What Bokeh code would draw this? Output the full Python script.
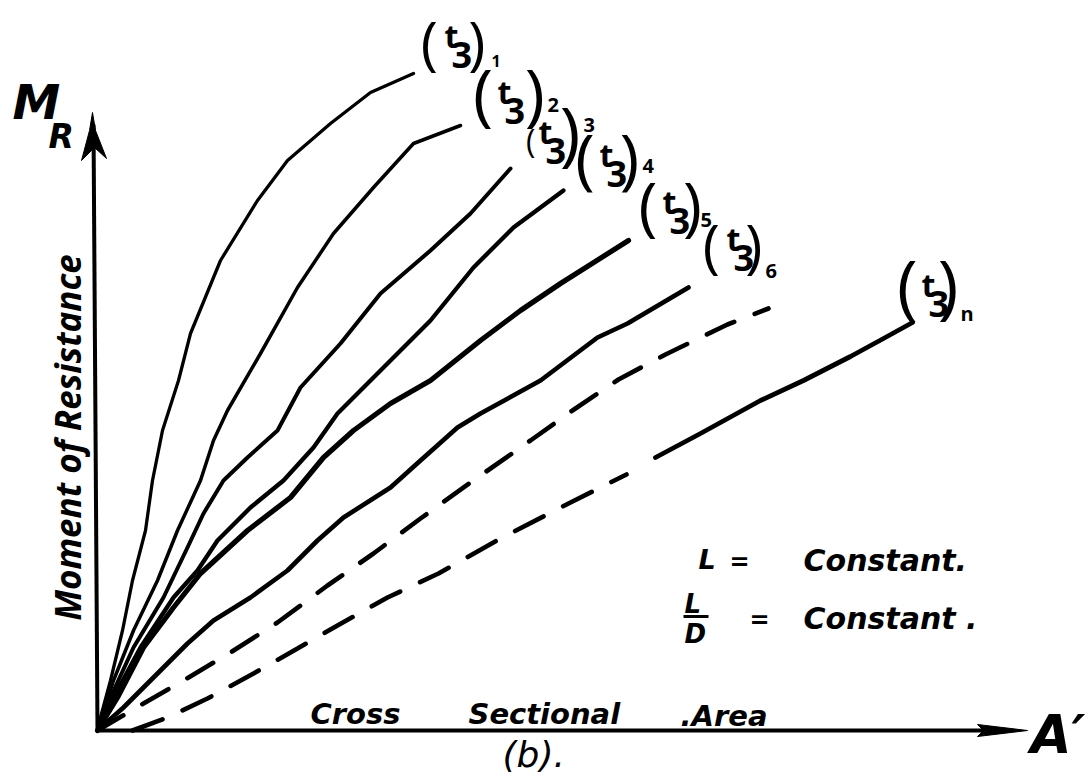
import math
from bokeh.plotting import figure
from bokeh.models import Range1d
from bokeh.core.properties import value
from bokeh.embed import file_html
from bokeh.resources import INLINE

# ---- data: A' (cross sectional area) vs M_R (moment of resistance), arbitrary units ----
c1_x = [0, 3, 13, 25, 35, 48, 55, 65, 81, 93, 123, 160, 190, 233, 273, 316]
c1_y = [0, 13, 50, 100, 150, 200, 250, 300, 350, 397, 470, 530, 570, 607, 638, 657]

c2_x = [0, 16, 36, 60, 80, 103, 116, 130, 163, 200, 236, 276, 316, 363]
c2_y = [0, 50, 100, 150, 200, 250, 290, 320, 377, 443, 497, 543, 587, 605]

c3_x = [0, 13, 36, 66, 90, 106, 126, 150, 180, 203, 243, 283, 333, 373, 413]
c3_y = [0, 33, 83, 133, 183, 217, 250, 273, 300, 343, 387, 437, 480, 517, 562]

c4_x = [0, 16, 43, 76, 100, 120, 153, 186, 216, 240, 273, 333, 376, 416, 466]
c4_y = [0, 33, 83, 133, 160, 190, 223, 250, 283, 317, 350, 410, 463, 503, 540]

c5_x = [0, 20, 46, 76, 103, 150, 193, 226, 256, 293, 333, 383, 423, 463, 531]
c5_y = [0, 33, 83, 123, 157, 200, 233, 273, 300, 327, 350, 390, 420, 447, 490]

c6_x = [0, 26, 60, 90, 116, 153, 190, 220, 246, 293, 323, 360, 383, 443, 500, 530, 591]
c6_y = [0, 23, 57, 87, 110, 133, 160, 190, 213, 243, 270, 303, 317, 350, 393, 407, 443]

d1_x = [0, 46, 86, 133, 180, 230, 276, 323, 373, 433, 475, 521, 568, 630, 671]
d1_y = [0, 27, 50, 78, 108, 145, 177, 212, 248, 290, 320, 351, 376, 406, 422]

nd_x = [35, 70, 110, 156, 200, 240, 290, 341, 403, 473, 529]
nd_y = [0, 13, 32, 57, 82, 105, 133, 157, 192, 228, 256]
ns_x = [558, 603, 663, 706, 753, 786, 815]
ns_y = [273, 297, 330, 350, 374, 392, 408]

label_names = ["1", "2", "3", "4", "5", "6", "n"]

# ---- layout / style ----
W, H = 1088, 778
OX, OY = 97, 730          # page pixel of the origin
OPEN = value("Open Sans")
DEJA = value("DejaVu Sans")
KF = {"Open Sans": 0.37, "DejaVu Sans": 0.34}   # baseline correction
K_ROT = 0.45

p = figure(width=W, height=H, output_backend="svg", toolbar_location=None,
           x_range=Range1d(-OX, W - OX), y_range=Range1d(OY - H, OY),
           x_axis_location=None, y_axis_location=None, min_border=0,
           outline_line_color=None, background_fill_color="white")
p.xgrid.visible = False
p.ygrid.visible = False


def P(xp, yp):
    return xp - OX, OY - yp


def txt(xp, yb, s, size, style="bold italic", font=OPEN, align="left", angle=0.0):
    k = KF[font.value]
    if angle:
        x, y = P(xp - K_ROT * size, yb)
    else:
        x, y = P(xp, yb - k * size)
    p.text(x=[x], y=[y], text=[s], text_font=font, text_font_size=f"{size}px",
           text_font_style=style, text_align=align, text_baseline="alphabetic",
           angle=angle, text_color="black")


# axes (arrows)
X_END, Y_END = 930, 618
p.line([0, X_END - 40], [0, 0], line_width=4, line_color="black")
p.patch([X_END, X_END - 50, X_END - 44, X_END - 50], [0, 6, 0, -6], color="black")
p.line([0, -4], [0, Y_END - 12], line_width=4, line_color="black")
p.patch([-5, -2, 9, -3, -16, -8], [Y_END, Y_END - 18, Y_END - 46, Y_END - 35, Y_END - 48, Y_END - 18],
        color="black")

# curves
solid = [(c1_x, c1_y, 3.3), (c2_x, c2_y, 3.5), (c3_x, c3_y, 4.0),
         (c4_x, c4_y, 4.3), (c5_x, c5_y, 5.2), (c6_x, c6_y, 4.6)]
for xs, ys, lw in solid:
    p.line(xs, ys, line_width=lw, line_color="black", line_cap="round", line_join="round")

p.line(d1_x, d1_y, line_width=4.6, line_color="black", line_dash="30 22", line_cap="round")
p.line(nd_x, nd_y, line_width=4.6, line_color="black", line_dash="32 22", line_cap="round")
p.line(ns_x, ns_y, line_width=4.8, line_color="black", line_cap="round", line_join="round")

# curve labels  (t3)_k
ends = [(c1_x[-1], c1_y[-1]), (c2_x[-1], c2_y[-1]), (c3_x[-1], c3_y[-1]),
        (c4_x[-1], c4_y[-1]), (c5_x[-1], c5_y[-1]), (c6_x[-1], c6_y[-1]),
        (ns_x[-1], ns_y[-1])]
lab_off = [(12, 1), (18, 5), (9, 2), (17, 3), (15, 0), (19, -10), (-10, 1)]
paren_sz = [58, 68, 70, 66, 64, 58, 70]
open_sz = [58, 68, 32, 66, 64, 58, 70]
open_off = [(0, 0), (0, 0), (9, -12), (0, 0), (0, 0), (0, 0), (0, 0)]
close_dx = [45, 49, 43, 42, 42, 40, 38]
sub_sz = [16, 20, 20, 20, 20, 20, 20]
sub_off = [(66, -8), (69, -18), (64, -38), (62, -20), (57, -13), (58, 1), (58, -3)]

for k, name in enumerate(label_names):
    ex, ey = ends[k]
    ax = ex + OX + lab_off[k][0]
    ab = OY - ey + lab_off[k][1]
    ps = paren_sz[k]
    os_ = open_sz[k]
    txt(ax + open_off[k][0] - 0.08 * os_, ab + open_off[k][1] - 0.2 * os_, "(", os_, style="normal")
    txt(ax + 19, ab - 27, "t", 32, style="bold")
    txt(ax + 26, ab - 6, "3", 36, style="bold")
    txt(ax + close_dx[k] - 0.04 * ps, ab - 0.2 * ps, ")", ps, style="normal")
    txt(ax + sub_off[k][0], ab + sub_off[k][1], name, sub_sz[k], style="bold")

# axis titles
txt(12, 118, "M", 48, font=DEJA)
txt(48, 147, "R", 33, font=DEJA)
txt(83, 437, "Moment of Resistance", 35, align="center", angle=math.pi / 2)
txt(310, 723, "Cross", 29, font=DEJA)
txt(468, 723, "Sectional", 29, font=DEJA)
txt(680, 725, ".Area", 29, font=DEJA)
txt(502, 766, "(b).", 36, style="italic", font=DEJA)
txt(1030, 752, "A\u2032", 53, font=DEJA)

# annotation
txt(698, 568, "L", 27, font=DEJA)
txt(729, 570, "=", 24, font=DEJA)
txt(803, 570, "Constant.", 30, font=DEJA)
txt(684, 612, "L", 26, font=DEJA)
bx0, by0 = P(683, 616)
bx1, by1 = P(708, 616)
p.line([bx0, bx1], [by0, by1], line_width=3, line_color="black")
txt(684, 642, "D", 26, font=DEJA)
txt(749, 628, "=", 24, font=DEJA)
txt(803, 628, "Constant .", 30, font=DEJA)

open("out.html", "w").write(file_html(p, INLINE))
